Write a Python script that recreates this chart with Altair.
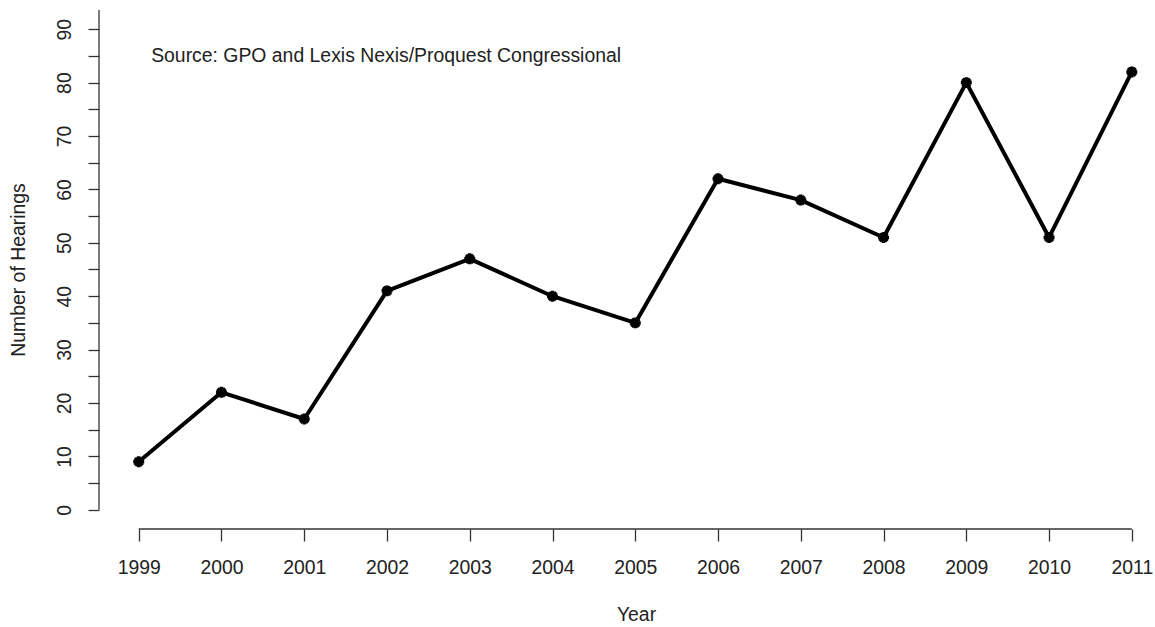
import altair as alt
import pandas as pd

# Congressional hearings per year
years = [1999, 2000, 2001, 2002, 2003, 2004, 2005, 2006, 2007, 2008, 2009, 2010, 2011]
hearings = [9, 22, 17, 41, 47, 40, 35, 62, 58, 51, 80, 51, 82]

# Axis setup
y_ticks = list(range(0, 95, 5))
x_domain = [1998.52, 2011.28]
y_domain = [-3.6, 93.6]
source_note = "Source: GPO and Lexis Nexis/Proquest Congressional"

FONT = "Liberation Sans"
AXIS_COLOR = "#333333"
TEXT_COLOR = "#222222"
FS = 19.4

df = pd.DataFrame({"Year": years, "Hearings": hearings})

x_scale = alt.Scale(domain=x_domain, nice=False, zero=False)
y_scale = alt.Scale(domain=y_domain, nice=False, zero=False)

x_axis = alt.Axis(
    values=years, format="d", domain=False, grid=False,
    tickSize=12, tickColor=AXIS_COLOR, tickWidth=1.3,
    labelFontSize=FS, labelFont=FONT, labelColor=TEXT_COLOR, labelPadding=17,
    title="Year", titleFont=FONT, titleFontSize=FS, titleFontWeight="normal",
    titleColor=TEXT_COLOR, titleX=537, titleY=85, titleBaseline="middle",
    titleAlign="center",
)
y_axis = alt.Axis(
    values=y_ticks, domain=False, grid=False,
    tickSize=11, tickColor=AXIS_COLOR, tickWidth=1.3,
    labelExpr="datum.value % 10 == 0 ? datum.label : ''",
    labelAngle=-90, labelFontSize=FS, labelFont=FONT, labelColor=TEXT_COLOR,
    labelPadding=14, labelBaseline="bottom", labelAlign="center",
    title="Number of Hearings", titleFont=FONT, titleFontSize=FS,
    titleFontWeight="normal", titleColor=TEXT_COLOR, titleAngle=-90,
    titleX=-81, titleY=259.5, titleBaseline="middle", titleAlign="center",
)

X = alt.X("Year:Q", scale=x_scale, axis=x_axis)
Y = alt.Y("Hearings:Q", scale=y_scale, axis=y_axis)

base = alt.Chart(df)

line = base.mark_line(color="black", strokeWidth=4, strokeJoin="round", strokeCap="round").encode(
    x=X, y=Y,
)

# asterisk-style point markers
asterisk = "M-1,0L1,0M0,-1L0,1M-0.7,-0.7L0.7,0.7M-0.7,0.7L0.7,-0.7"
points = base.mark_point(shape=asterisk, filled=False, color="black", strokeWidth=3.5,
                         size=120, opacity=1).encode(
    x=X, y=Y,
)

# axis lines drawn as rules spanning the tick range
x_line_df = pd.DataFrame({"Year": [years[0]], "Year2": [years[-1]], "Hearings": [y_domain[0]]})
x_line = alt.Chart(x_line_df).mark_rule(color=AXIS_COLOR, strokeWidth=1.3).encode(
    x=X, x2="Year2:Q", y=Y,
)
y_line_df = pd.DataFrame({"Year": [x_domain[0]], "Hearings": [y_ticks[0]], "Hearings2": [y_domain[1]]})
y_line = alt.Chart(y_line_df).mark_rule(color=AXIS_COLOR, strokeWidth=1.3).encode(
    x=X, y=Y, y2="Hearings2:Q",
)

note_df = pd.DataFrame({"Year": [1999.15], "Hearings": [85], "text": [source_note]})
note = alt.Chart(note_df).mark_text(
    align="left", baseline="middle", font=FONT, fontSize=FS, color=TEXT_COLOR
).encode(
    x=X, y=Y, text="text:N",
)

chart = alt.layer(x_line, y_line, line, points, note).properties(
    width=1056,
    height=519,
    autosize=alt.AutoSizeParams(type="none"),
    padding={"left": 99, "top": 10, "right": 0, "bottom": 98},
    background="white",
).configure_view(stroke=None)

chart.save("out.html", embed_options={"renderer": "svg", "actions": False})
